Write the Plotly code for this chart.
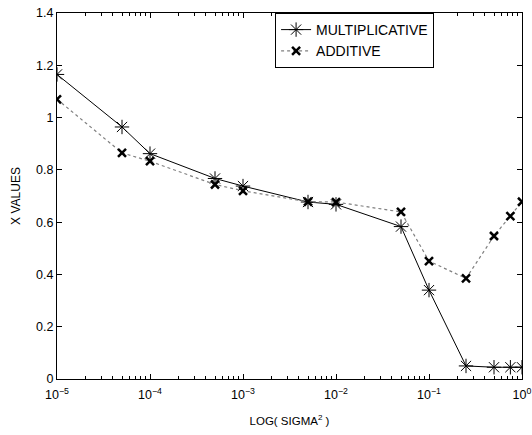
import plotly.graph_objects as go

sigma2 = [1e-5, 5e-5, 1e-4, 5e-4, 1e-3, 5e-3, 1e-2, 5e-2, 1e-1, 0.25, 0.5, 0.75, 1.0]
multiplicative = [1.165, 0.964, 0.862, 0.767, 0.738, 0.677, 0.668, 0.583, 0.340, 0.050, 0.045, 0.045, 0.045]
additive = [1.070, 0.865, 0.833, 0.744, 0.720, 0.678, 0.677, 0.639, 0.451, 0.385, 0.547, 0.623, 0.678]

x_tickvals = [1e-5, 1e-4, 1e-3, 1e-2, 1e-1, 1.0]
x_ticktext = ["10<sup>−5</sup>", "10<sup>−4</sup>", "10<sup>−3</sup>",
              "10<sup>−2</sup>", "10<sup>−1</sup>", "10<sup>0</sup>"]
x_minor = [m * 10.0 ** e for e in range(-5, 0) for m in range(2, 10)]

fig = go.Figure()
fig.add_trace(go.Scatter(
    x=sigma2, y=multiplicative, name="MULTIPLICATIVE", mode="lines+markers",
    line=dict(color="black", width=1, dash="solid"),
    marker=dict(symbol="asterisk-open", size=12, color="black",
                line=dict(color="black", width=1)),
))
fig.add_trace(go.Scatter(
    x=sigma2, y=additive, name="ADDITIVE", mode="lines+markers",
    line=dict(color="#808080", width=1.2, dash="dot"),
    marker=dict(symbol="x-thin-open", size=8, color="black",
                line=dict(color="black", width=2.5)),
))

font = dict(family="Liberation Sans, Arial, sans-serif", size=12.5, color="black")
tfont = dict(family="Liberation Sans, Arial, sans-serif", size=12, color="black")
fig.update_layout(
    width=532, height=435,
    margin=dict(l=57, r=10, t=13, b=56, autoexpand=False),
    paper_bgcolor="white", plot_bgcolor="white",
    font=font,
    showlegend=True,
    legend=dict(
        x=0.469, y=1.0, xanchor="left", yanchor="top",
        bgcolor="white", bordercolor="black", borderwidth=1,
        font=dict(family="Liberation Sans, Arial, sans-serif", size=14, color="black"),
        tracegroupgap=0, itemwidth=30,
    ),
    xaxis=dict(
        type="log", range=[-5, 0], tickmode="array",
        tickvals=x_tickvals, ticktext=x_ticktext, automargin=False,
        showgrid=False, zeroline=False,
        showline=True, linecolor="black", linewidth=1, mirror="ticks",
        ticks="inside", ticklen=5, tickcolor="black", ticklabelstandoff=4,
        minor=dict(tickmode="array", tickvals=x_minor, ticks="inside", ticklen=3,
                   tickcolor="black", showgrid=False),
        tickfont=font,
        title=dict(text="LOG( SIGMA<sup>2</sup> )",
                   font=dict(family="Liberation Sans, Arial, sans-serif", size=11.5, color="black"),
                   standoff=15),
    ),
    yaxis=dict(
        range=[0, 1.4], dtick=0.2, tickformat="~g", automargin=False,
        showgrid=False, zeroline=False,
        showline=True, linecolor="black", linewidth=1, mirror="ticks",
        ticks="inside", ticklen=5, tickcolor="black",
        tickfont=font,
        title=dict(text="X VALUES", font=tfont, standoff=12),
    ),
)

fig.write_html("out.html")
